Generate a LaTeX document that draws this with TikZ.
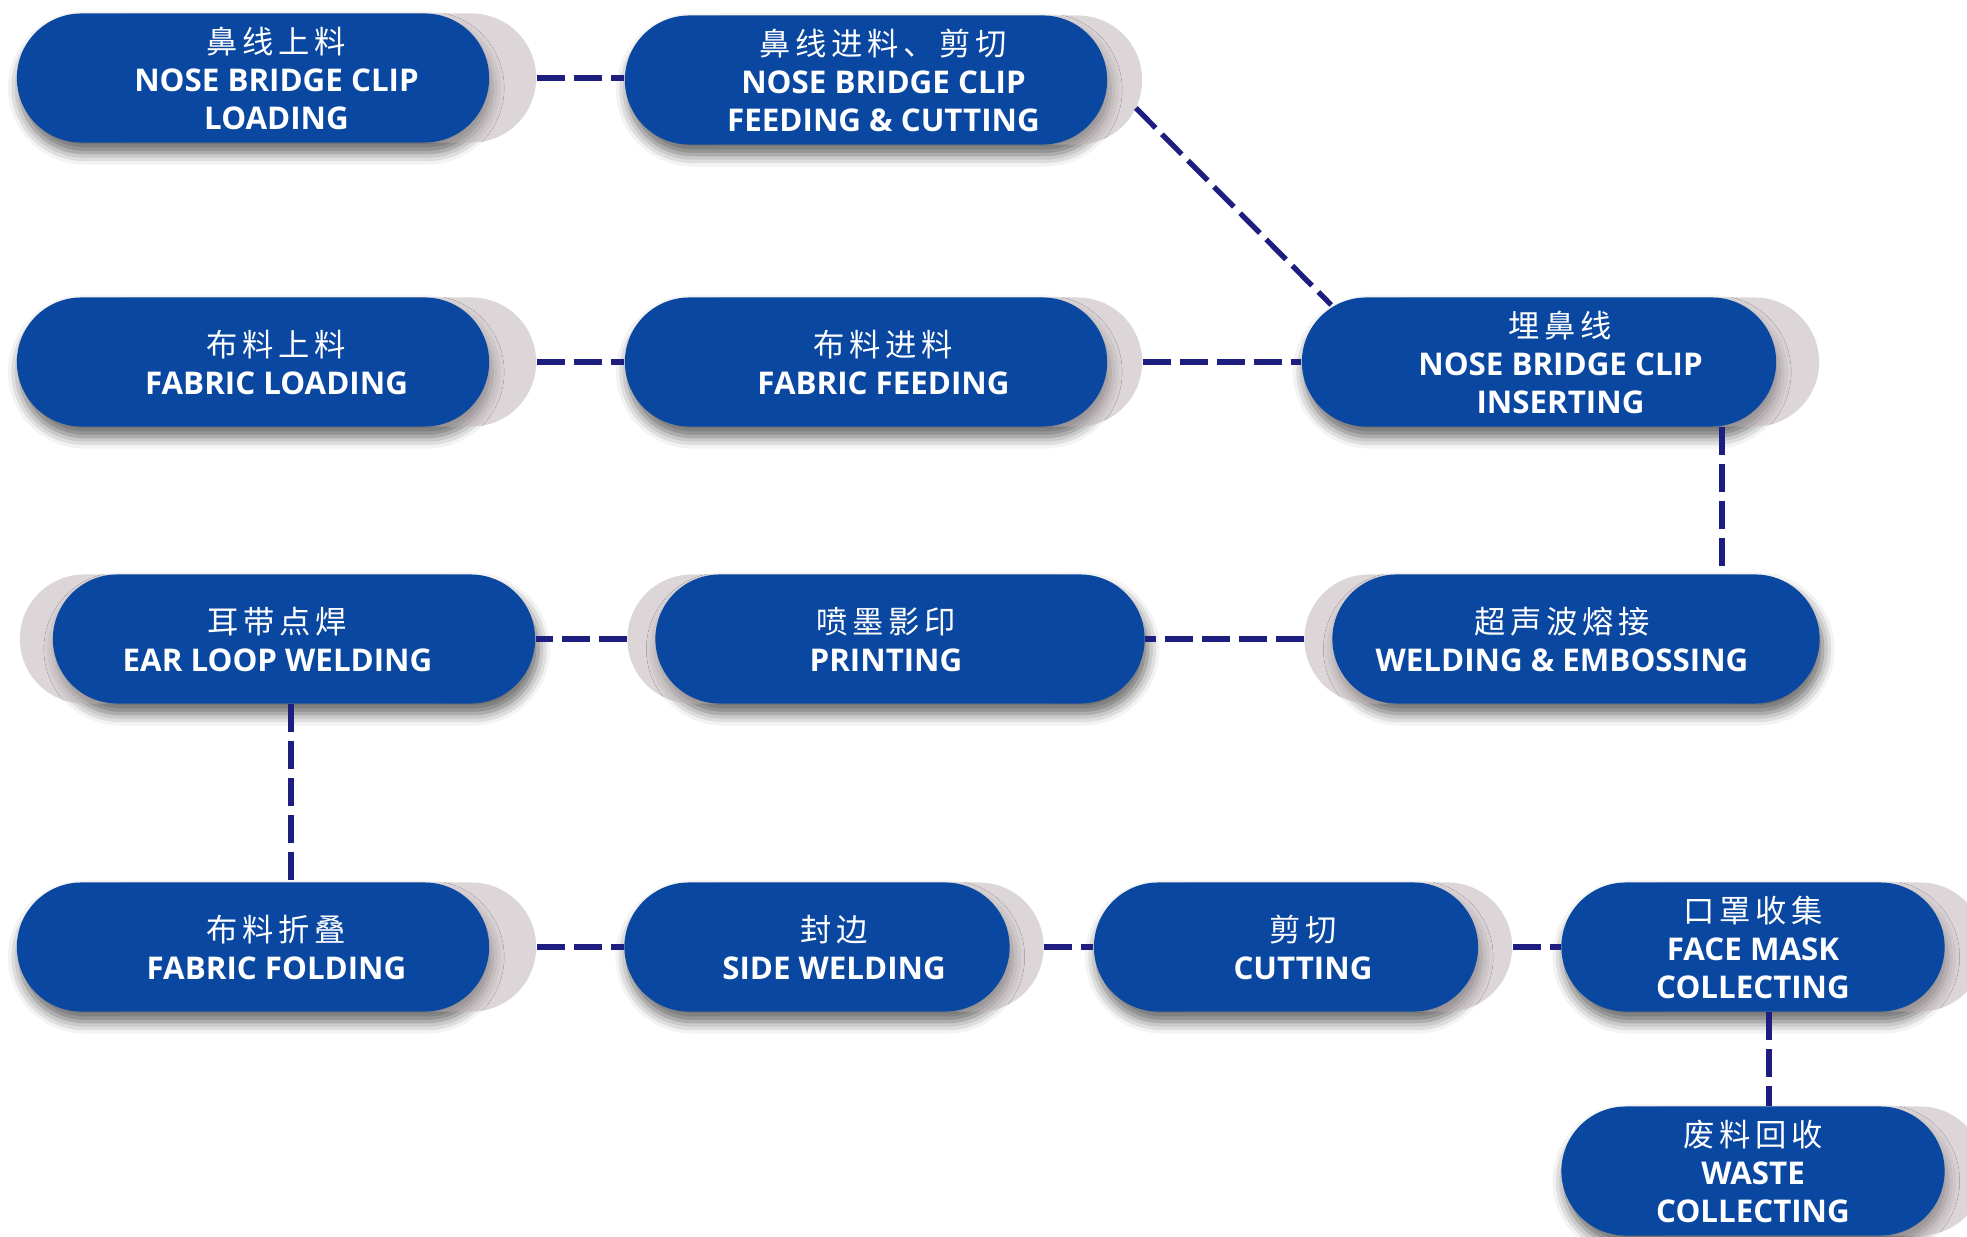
\documentclass[tikz,border=0pt]{standalone}
\usepackage{fontspec}
\newfontfamily\enfont{Open Sans}
\newfontfamily\cjkfont{Noto Sans CJK SC}[LetterSpace=15]
\usetikzlibrary{shadows,shadows.blur,calc}
\definecolor{maskblue}{RGB}{10,71,160}
\definecolor{maskgray}{RGB}{221,214,216}
\definecolor{linknavy}{RGB}{30,30,128}
\newcommand{\zhline}[1]{{\cjkfont\mdseries\fontsize{8.9}{10.7}\selectfont #1}}
% text centred on blue box and gray copy together
\newcommand{\steptext}[2]{\hspace*{#1}\raisebox{0pt}[\dimexpr\height+1.2mm\relax][\depth]{\begin{tabular}{@{}c@{}}#2\end{tabular}}}
\tikzset{
  stepbox/.style={
    % The shape:
    shape=rectangle,rounded corners=6.45mm,
    % The size:
    minimum height=12.9mm,minimum width=#1,inner sep=0pt,
    % The filling:
    fill=maskblue,text=white,
    % The text:
    font=\enfont\bfseries\fontsize{8.9}{10.7}\selectfont
  }}
\tikzset{
	backcopy/.style={
		% gray copy behind, then the soft shadow of the box
		blur shadow={shadow xshift=#1,shadow yshift=-1mm,shadow blur radius=1.2mm,shadow opacity=25},
		copy shadow={shadow xshift=#1,shadow yshift=0mm,fill=maskgray,draw=none},
		blur shadow={shadow xshift=0.3mm,shadow yshift=-1mm,shadow blur radius=1.2mm,shadow opacity=35}},
	link/.style={
		draw=linknavy,line width=1.5pt,dash pattern=on 2.8mm off 0.9mm}}

\begin{document}
\begin{tikzpicture}[x=0.01cm,y=-0.01cm]
	\useasboundingbox (0,0) rectangle (1967,1237);
	% Row 1
	\node[stepbox=4.72cm,backcopy=4.7mm] (lc) at (253,78) {\steptext{4.7mm}{\zhline{鼻线上料}\\NOSE BRIDGE CLIP\\LOADING}};
	\node[stepbox=4.82cm,backcopy=3.5mm] (fc) at (866,80) {\steptext{3.5mm}{\zhline{鼻线进料、剪切}\\NOSE BRIDGE CLIP\\FEEDING \& CUTTING}};
	% Row 2
	\node[stepbox=4.72cm,backcopy=4.7mm] (lf) at (253,362) {\steptext{4.7mm}{\zhline{布料上料}\\FABRIC LOADING}};
	\node[stepbox=4.82cm,backcopy=3.5mm] (ff) at (866,362) {\steptext{3.5mm}{\zhline{布料进料}\\FABRIC FEEDING}};
	\node[stepbox=4.74cm,backcopy=4.3mm] (ic) at (1539,362) {\steptext{4.3mm}{\zhline{埋鼻线}\\NOSE BRIDGE CLIP\\INSERTING}};
	% Row 3
	\node[stepbox=4.82cm,backcopy=-3.3mm] (el) at (294,639) {\steptext{-3.3mm}{\zhline{耳带点焊}\\EAR LOOP WELDING}};
	\node[stepbox=4.89cm,backcopy=-2.8mm] (pr) at (900,639) {\steptext{-2.8mm}{\zhline{喷墨影印}\\PRINTING}};
	\node[stepbox=4.87cm,backcopy=-2.8mm] (we) at (1576,639) {\steptext{-2.8mm}{\zhline{超声波熔接}\\WELDING \& EMBOSSING}};
	% Row 4
	\node[stepbox=4.72cm,backcopy=4.7mm] (fo) at (253,947) {\steptext{4.7mm}{\zhline{布料折叠}\\FABRIC FOLDING}};
	\node[stepbox=3.85cm,backcopy=3.4mm] (sw) at (817,947) {\steptext{3.4mm}{\zhline{封边}\\SIDE WELDING}};
	\node[stepbox=3.84cm,backcopy=3.4mm] (cu) at (1286,947) {\steptext{3.4mm}{\zhline{剪切}\\CUTTING}};
	\node[stepbox=3.83cm,backcopy=4mm] (fm) at (1753,947) {\steptext{0mm}{\zhline{口罩收集}\\FACE MASK\\COLLECTING}};
	\node[stepbox=3.83cm,backcopy=4mm] (wc) at (1753,1171) {\steptext{0mm}{\zhline{废料回收}\\WASTE\\COLLECTING}};
	% Links of the nose bridge clip
	\draw[link] ([xshift=4.7mm]lc.east) -- (lc.east -| fc.west);
	\draw[link] ($(fc.east)+(2.8mm,-2.8mm)$) -- ($(ic.west)+(3mm,5.7mm)$);
	% Links of the fabric
	\draw[link] ([xshift=4.7mm]lf.east) -- (ff.west);
	\draw[link] ([xshift=3.5mm]ff.east) -- (ic.west);
	\draw[link] ([xshift=18.3mm]ic.south) -- ([xshift=18.3mm]ic.south |- we.north);
	% Back to the left
	\draw[link] ([xshift=-2.8mm]we.west) -- (pr.east);
	\draw[link] ([xshift=-2.8mm]pr.west) -- (el.east);
	\draw[link] ([xshift=-0.3mm]el.south) -- ([xshift=-0.3mm]el.south |- fo.north);
	% Last row
	\draw[link] ([xshift=4.7mm]fo.east) -- (sw.west);
	\draw[link] ([xshift=3.4mm]sw.east) -- (cu.west);
	\draw[link] ([xshift=3.4mm]cu.east) -- (fm.west);
	\draw[link] ([xshift=1.6mm]fm.south) -- ([xshift=1.6mm]wc.north);
\end{tikzpicture}
\end{document}
